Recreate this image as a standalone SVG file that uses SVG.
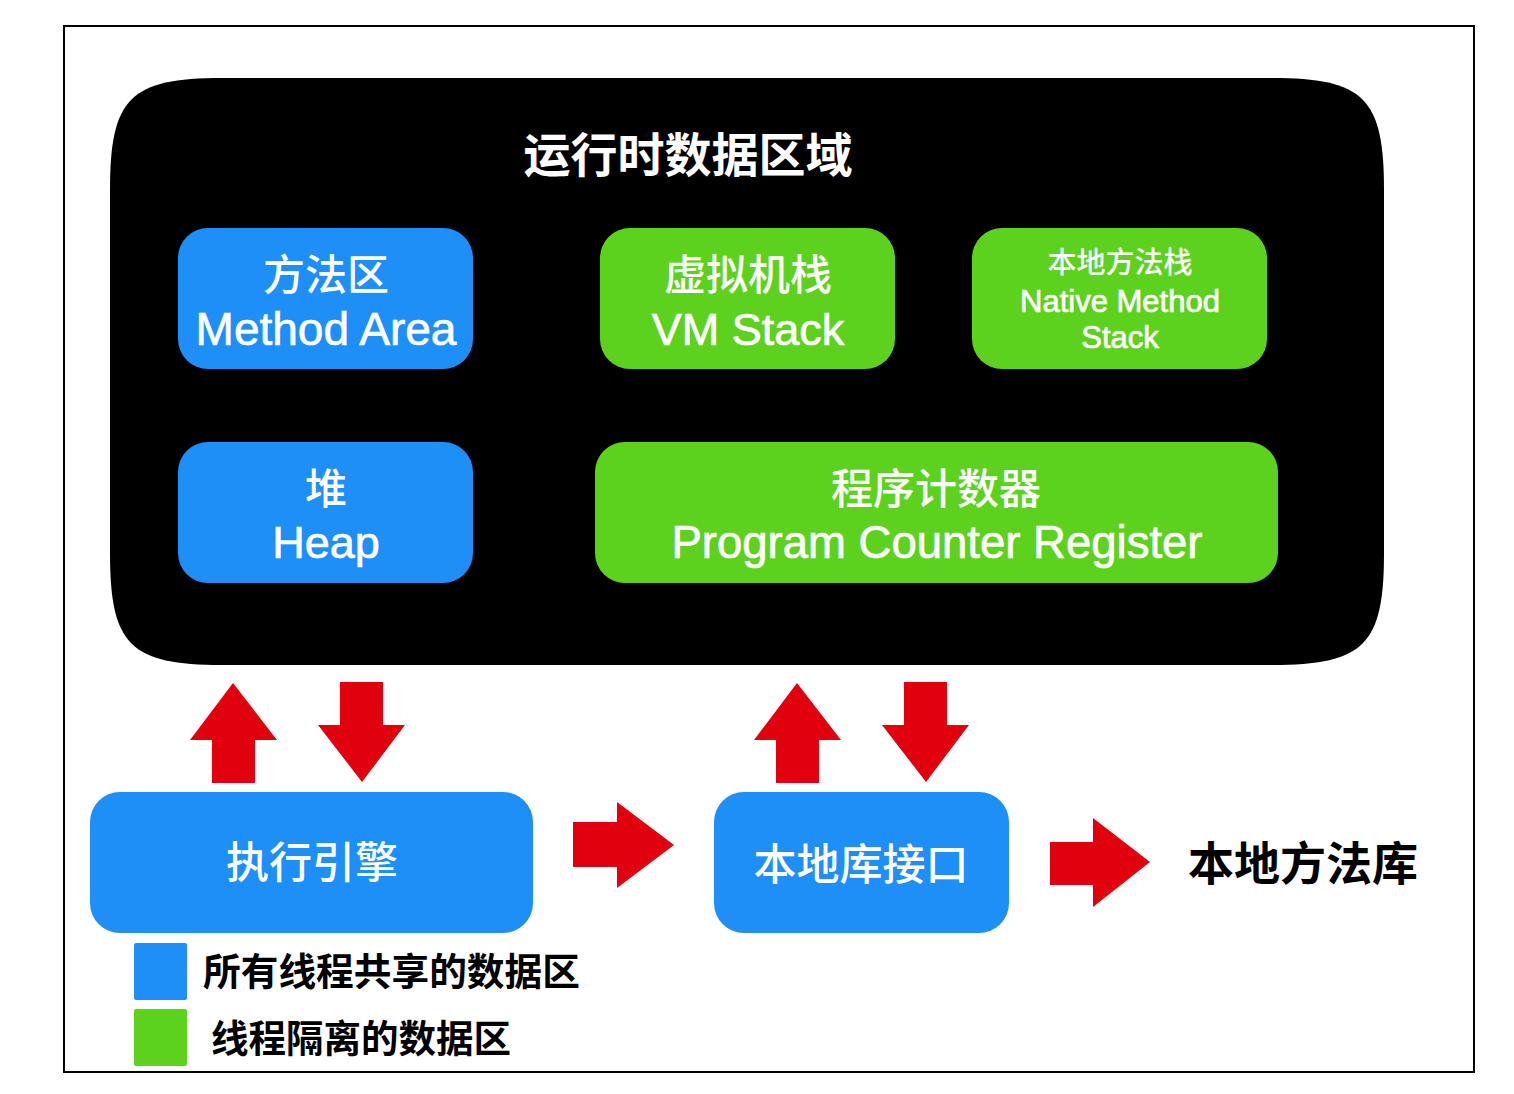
<svg xmlns="http://www.w3.org/2000/svg" width="1514" height="1094" viewBox="0 0 1514 1094">
<style>
.t{font-family:"Liberation Sans","Noto Sans CJK SC",sans-serif;text-anchor:middle;fill:#fff;stroke:#fff;stroke-width:0.7}
.c{font-family:"Noto Sans CJK SC","Liberation Sans",sans-serif;text-anchor:middle;fill:#fff;font-weight:500}
.blue{fill:#1E8FF7}
.green{fill:#5DD21E}
.arrow{fill:#E1000E}
.k{font-family:"Noto Sans CJK SC",sans-serif;fill:#000;font-weight:700}
</style>
<rect x="0" y="0" width="1514" height="1094" fill="#fff"/>
<rect x="64" y="26" width="1410" height="1046" fill="none" stroke="#000" stroke-width="2"/>
<g id="runtime-area">
<path d="M 222 78 L 1272 78 C 1364 78 1384 98 1384 190 L 1384 553 C 1384 645 1364 665 1272 665 L 222 665 C 130 665 110 645 110 553 L 110 190 C 110 98 130 78 222 78 Z" fill="#000"/>
<text class="c" x="688" y="172" font-size="47" font-weight="700" style="font-weight:700">运行时数据区域</text>
</g>
<g id="method-area">
<rect class="blue" x="178" y="228" width="295" height="141" rx="30"/>
<text class="c" x="326" y="290" font-size="42">方法区</text>
<text class="t" x="326" y="345" font-size="46">Method Area</text>
</g>
<g id="vm-stack">
<rect class="green" x="600" y="228" width="295" height="141" rx="30"/>
<text class="c" x="748" y="290" font-size="42">虚拟机栈</text>
<text class="t" x="748" y="345" font-size="45">VM Stack</text>
</g>
<g id="native-method-stack">
<rect class="green" x="972" y="228" width="295" height="141" rx="30"/>
<text class="c" x="1120" y="273" font-size="29">本地方法栈</text>
<text class="t" x="1120" y="312" font-size="31">Native Method</text>
<text class="t" x="1120" y="348" font-size="31">Stack</text>
</g>
<g id="heap">
<rect class="blue" x="178" y="442" width="295" height="141" rx="30"/>
<text class="c" x="326" y="504" font-size="42">堆</text>
<text class="t" x="326" y="558" font-size="45">Heap</text>
</g>
<g id="program-counter">
<rect class="green" x="595" y="442" width="683" height="141" rx="30"/>
<text class="c" x="936" y="504" font-size="42">程序计数器</text>
<text class="t" x="937" y="558" font-size="45.5">Program Counter Register</text>
</g>
<g id="execution-engine">
<rect class="blue" x="90" y="792" width="443" height="141" rx="30"/>
<text class="c" x="312" y="878" font-size="43">执行引擎</text>
</g>
<g id="native-interface">
<rect class="blue" x="714" y="792" width="295" height="141" rx="30"/>
<text class="c" x="861" y="880" font-size="43">本地库接口</text>
</g>
<g id="native-library">
<text class="k" x="1303" y="880" font-size="46" text-anchor="middle">本地方法库</text>
</g>
<g id="connectors">
<polygon class="arrow" points="233,683 277,740 255,740 255,783 212,783 212,740 190,740"/>
<polygon class="arrow" points="340,682 383,682 383,725 405,725 362,782 318,725 340,725"/>
<polygon class="arrow" points="797,683 841,740 819,740 819,783 776,783 776,740 754,740"/>
<polygon class="arrow" points="904,682 947,682 947,725 969,725 926,782 882,725 904,725"/>
<polygon class="arrow" points="573,822 617,822 617,802 674,845 617,888 617,867 573,867"/>
<polygon class="arrow" points="1050,842 1093,842 1093,818 1150,862 1093,907 1093,885 1050,885"/>
</g>
<g id="legend">
<rect class="blue" x="134" y="943" width="53" height="57" rx="2"/>
<rect class="green" x="134" y="1009" width="53" height="57" rx="2"/>
<text class="k" x="203" y="985" font-size="37.7">所有线程共享的数据区</text>
<text class="k" x="211" y="1052" font-size="37.5">线程隔离的数据区</text>
</g>
</svg>
